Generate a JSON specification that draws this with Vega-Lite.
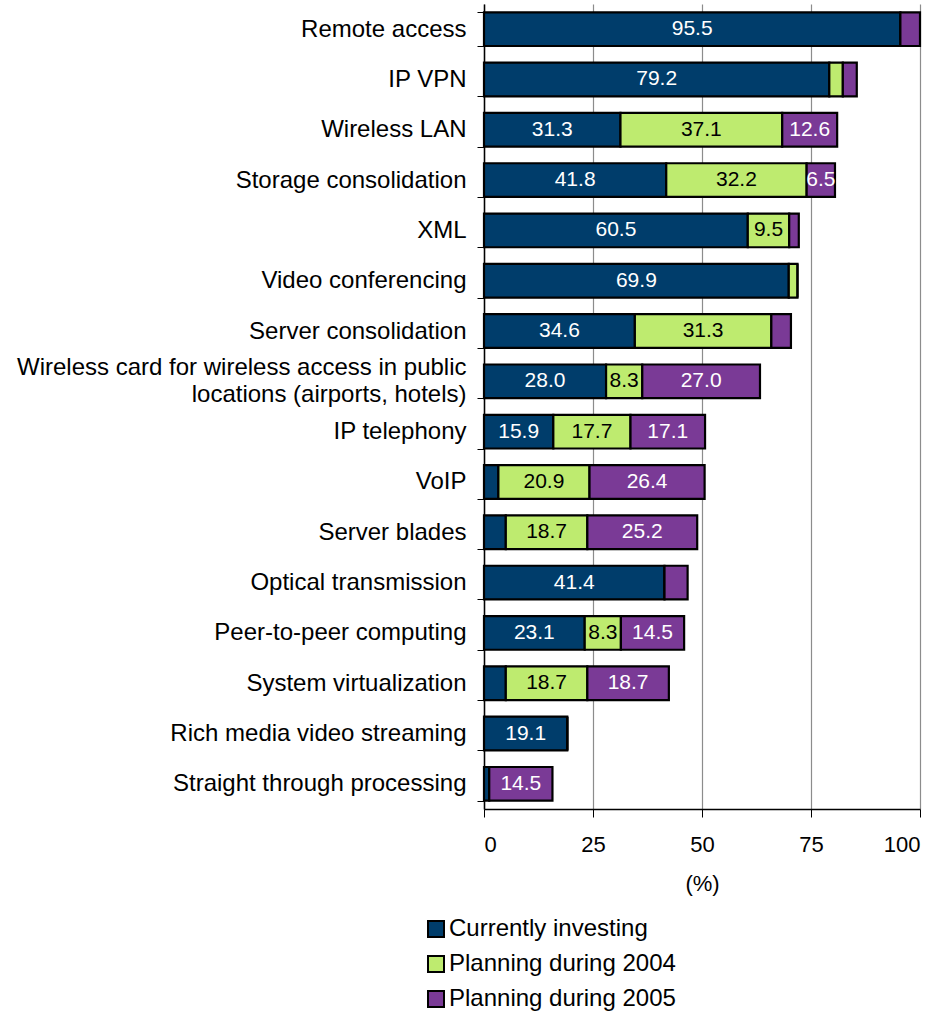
{
  "$schema": "https://vega.github.io/schema/vega-lite/v6.json",
  "autosize": {"type": "none"},
  "width": 436,
  "height": 805,
  "padding": {"left": 484, "top": 4, "right": 24, "bottom": 207},
  "background": "white",
  "config": {
    "font": "Liberation Sans",
    "view": {"stroke": null},
    "axis": {"labelFont": "Liberation Sans", "titleFont": "Liberation Sans", "labelColor": "black", "titleColor": "black"},
    "legend": {"labelFont": "Liberation Sans"}
  },
  "data": {
    "values": [
      {"cat": "Remote access", "series": "Currently investing", "value": 95.5},
      {"cat": "Remote access", "series": "Planning during 2004", "value": 0},
      {"cat": "Remote access", "series": "Planning during 2005", "value": 4.5},
      {"cat": "IP VPN", "series": "Currently investing", "value": 79.2},
      {"cat": "IP VPN", "series": "Planning during 2004", "value": 3.1},
      {"cat": "IP VPN", "series": "Planning during 2005", "value": 3.2},
      {"cat": "Wireless LAN", "series": "Currently investing", "value": 31.3},
      {"cat": "Wireless LAN", "series": "Planning during 2004", "value": 37.1},
      {"cat": "Wireless LAN", "series": "Planning during 2005", "value": 12.6},
      {"cat": "Storage consolidation", "series": "Currently investing", "value": 41.8},
      {"cat": "Storage consolidation", "series": "Planning during 2004", "value": 32.2},
      {"cat": "Storage consolidation", "series": "Planning during 2005", "value": 6.5},
      {"cat": "XML", "series": "Currently investing", "value": 60.5},
      {"cat": "XML", "series": "Planning during 2004", "value": 9.5},
      {"cat": "XML", "series": "Planning during 2005", "value": 2.2},
      {"cat": "Video conferencing", "series": "Currently investing", "value": 69.9},
      {"cat": "Video conferencing", "series": "Planning during 2004", "value": 2.0},
      {"cat": "Video conferencing", "series": "Planning during 2005", "value": 0},
      {"cat": "Server consolidation", "series": "Currently investing", "value": 34.6},
      {"cat": "Server consolidation", "series": "Planning during 2004", "value": 31.3},
      {"cat": "Server consolidation", "series": "Planning during 2005", "value": 4.5},
      {"cat": "Wireless card", "series": "Currently investing", "value": 28.0},
      {"cat": "Wireless card", "series": "Planning during 2004", "value": 8.3},
      {"cat": "Wireless card", "series": "Planning during 2005", "value": 27.0},
      {"cat": "IP telephony", "series": "Currently investing", "value": 15.9},
      {"cat": "IP telephony", "series": "Planning during 2004", "value": 17.7},
      {"cat": "IP telephony", "series": "Planning during 2005", "value": 17.1},
      {"cat": "VoIP", "series": "Currently investing", "value": 3.3},
      {"cat": "VoIP", "series": "Planning during 2004", "value": 20.9},
      {"cat": "VoIP", "series": "Planning during 2005", "value": 26.4},
      {"cat": "Server blades", "series": "Currently investing", "value": 5.0},
      {"cat": "Server blades", "series": "Planning during 2004", "value": 18.7},
      {"cat": "Server blades", "series": "Planning during 2005", "value": 25.2},
      {"cat": "Optical transmission", "series": "Currently investing", "value": 41.4},
      {"cat": "Optical transmission", "series": "Planning during 2004", "value": 0},
      {"cat": "Optical transmission", "series": "Planning during 2005", "value": 5.3},
      {"cat": "Peer-to-peer computing", "series": "Currently investing", "value": 23.1},
      {"cat": "Peer-to-peer computing", "series": "Planning during 2004", "value": 8.3},
      {"cat": "Peer-to-peer computing", "series": "Planning during 2005", "value": 14.5},
      {"cat": "System virtualization", "series": "Currently investing", "value": 5.0},
      {"cat": "System virtualization", "series": "Planning during 2004", "value": 18.7},
      {"cat": "System virtualization", "series": "Planning during 2005", "value": 18.7},
      {"cat": "Rich media video streaming", "series": "Currently investing", "value": 19.1},
      {"cat": "Rich media video streaming", "series": "Planning during 2004", "value": 0},
      {"cat": "Rich media video streaming", "series": "Planning during 2005", "value": 0},
      {"cat": "Straight through processing", "series": "Currently investing", "value": 1.2},
      {"cat": "Straight through processing", "series": "Planning during 2004", "value": 0},
      {"cat": "Straight through processing", "series": "Planning during 2005", "value": 14.5}
    ]
  },
  "transform": [
    {"stack": "value", "groupby": ["cat"], "sort": [{"field": "series", "order": "ascending"}], "as": ["x0", "x1"]},
    {"calculate": "(datum.x0 + datum.x1) / 2", "as": "mid"}
  ],
  "encoding": {
    "y": {
      "field": "cat",
      "type": "nominal",
      "sort": null,
      "scale": {"paddingInner": 0.33, "paddingOuter": 0.165},
      "axis": {
        "title": null,
        "labelFontSize": 24,
        "labelLimit": 600,
        "labelPadding": 11,
        "labelBaseline": {"condition": {"test": "datum.value == 'Wireless card'", "value": "line-bottom"}, "value": "middle"},
        "tickBand": "extent",
        "tickSize": 7,
        "tickColor": "black",
        "domainColor": "black",
        "domainWidth": 1.5,
        "labelLineHeight": 27,
        "labelExpr": "datum.label == 'Wireless card' ? ['Wireless card for wireless access in public', 'locations (airports, hotels)\\u00a0\\u00a0\\u00a0\\u00a0\\u00a0\\u00a0\\u00a0\\u00a0\\u00a0\\u00a0\\u00a0\\u00a0\\u00a0'] : datum.label"
      }
    }
  },
  "layer": [
    {
      "mark": {"type": "bar", "stroke": "black", "strokeWidth": 2.2},
      "encoding": {
        "x": {
          "field": "x0",
          "type": "quantitative",
          "scale": {"domain": [0, 100]},
          "axis": {
            "values": [0, 25, 50, 75, 100],
            "title": "(%)",
            "titleFontSize": 22,
            "titleFontWeight": "normal",
            "titlePadding": 18,
            "labelFontSize": 22,
            "labelPadding": 17,
            "tickSize": 8,
            "tickColor": "black",
            "domainColor": "black",
            "domainWidth": 1.5,
            "grid": true,
            "gridColor": "#8c8c8c",
            "gridWidth": 1.2
          }
        },
        "x2": {"field": "x1"},
        "color": {
          "field": "series",
          "type": "nominal",
          "scale": {
            "domain": ["Currently investing", "Planning during 2004", "Planning during 2005"],
            "range": ["#003D6B", "#BEEB6F", "#7A3A96"]
          },
          "legend": {
            "title": null,
            "orient": "none",
            "legendX": -60,
            "legendY": 913,
            "direction": "vertical",
            "symbolType": "square",
            "symbolSize": 256,
            "symbolStrokeColor": "black",
            "symbolStrokeWidth": 2,
            "symbolOpacity": 1,
            "labelFontSize": 24,
            "labelLimit": 400,
            "labelColor": "black",
            "labelOffset": 1,
            "rowPadding": 11,
            "padding": 0
          }
        }
      }
    },
    {
      "transform": [{"filter": "datum.value >= 6"}],
      "mark": {"type": "text", "fontSize": 21, "align": "center", "baseline": "middle"},
      "encoding": {
        "x": {"field": "mid", "type": "quantitative"},
        "text": {"field": "value", "type": "quantitative", "format": ".1f"},
        "color": {
          "condition": {"test": "datum.series == 'Planning during 2004'", "value": "black"},
          "value": "white"
        }
      }
    }
  ]
}
